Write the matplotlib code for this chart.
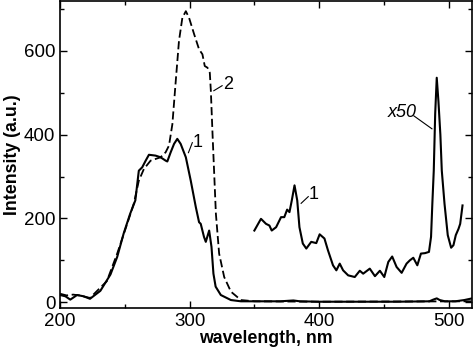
import numpy as np
import matplotlib.pyplot as plt
from matplotlib.ticker import MultipleLocator

plt.rcParams['font.family'] = ['Liberation Sans', 'DejaVu Sans']

# curve 1: emission spectrum (solid)
wl1 = [200, 204, 207.8, 213, 218, 223, 231, 238.8, 244, 249, 254, 258, 260.7, 263.3, 266,
       268.5, 273.6, 277.5, 281.4, 282.7, 285.3, 287.9, 290.4, 293, 297, 300.8, 304.7,
       307.2, 308.5, 311, 312.4, 315, 316.8, 318.3, 320, 324, 331.8, 339.5, 350, 370,
       380, 385, 400, 430, 460, 485, 488, 490.7, 493, 497, 505, 512, 518]
int1 = [17, 14, 6, 17, 14, 8, 27, 66, 108, 164, 211, 243, 314, 322, 338,
        352, 350, 346, 338, 336, 358, 378, 390, 378, 346, 290, 227,
        191, 187, 156, 144, 171, 132, 68, 37, 17, 5, 2, 2, 2,
        4, 2, 1, 1, 1, 2, 6, 9, 5, 2, 2, 5, 9]

# curve 2: dashed
wl2 = [200, 205, 210, 215, 223, 236, 244, 251.7, 256.8, 260.7, 264.6, 269.8, 277.5, 281.4,
       284, 286.6, 289, 291.7, 294.3, 297, 299.5, 303.4, 307.2, 309.8, 311.6, 313.7,
       315.5, 316.3, 317.6, 318.9, 320.2, 322.7, 326.6, 331.8, 339.5, 350, 400, 518]
int2 = [20, 16, 18, 16, 10, 50, 116, 187, 235, 290, 318, 338, 346, 358,
        374, 425, 520, 624, 679, 695, 679, 640, 604, 592, 564, 560,
        548, 505, 402, 306, 211, 116, 60, 25, 5, 2, 1, 2]

# curve 1 multiplied by 50
wl3 = [349.9, 355, 358.9, 361.5, 363.3, 366.7, 370.5, 373, 375.2, 377, 378.8, 380.9, 383,
       384.7, 387.3, 390, 393.8, 397.7, 400.3, 404, 406.7, 410.6, 413.2, 415.8, 418.4,
       422.3, 427.4, 431.3, 433.9, 439, 443, 446.8, 450.2, 453.3, 456.3, 459.7, 463.6,
       467.4, 470, 472.6, 475.7, 478.5, 481.6, 484.7, 486.3, 487.3, 488.4, 489.5, 490.7,
       492, 493.5, 494.6, 496.7, 499.2, 501.8, 503.6, 505.4, 507.5, 508.8, 510.6]
int3 = [171, 199, 187, 183, 171, 179, 203, 203, 221, 215, 243, 279, 243,
        179, 140, 128, 144, 141, 162, 152, 124, 88, 76, 92, 76,
        64, 60, 75, 68, 80, 62, 75, 60, 96, 109, 84, 70,
        92, 100, 106, 88, 116, 117, 120, 156, 235, 314, 450, 536,
        480, 400, 314, 235, 160, 130, 136, 160, 175, 187, 231]

fig = plt.figure(figsize=(4.74, 3.52), dpi=100)
ax = fig.add_axes([0.127, 0.125, 0.869, 0.873])

ax.plot(wl1, int1, color='black', lw=1.5, solid_joinstyle='round')
ax.plot(wl2, int2, color='black', lw=1.3, dashes=(4.5, 2))
ax.plot(wl3, int3, color='black', lw=1.5, solid_joinstyle='round')

# labels with leader lines
ax.plot([299, 302], [357, 381], color='black', lw=0.8)
ax.text(302.5, 382, '1', fontsize=13, va='center', ha='left')
ax.plot([318.6, 325], [505, 517], color='black', lw=0.8)
ax.text(325.5, 519, '2', fontsize=13, va='center', ha='left')
ax.plot([386, 391.5], [236, 252], color='black', lw=0.8)
ax.text(392, 256, '1', fontsize=13, va='center', ha='left')
ax.plot([473, 487], [445, 414], color='black', lw=0.8)
ax.text(464, 453, 'x50', fontsize=13, style='italic', va='center', ha='center')

ax.set_xlim(200, 518)
ax.set_ylim(-14, 720)
ax.xaxis.set_major_locator(MultipleLocator(100))
ax.xaxis.set_minor_locator(MultipleLocator(50))
ax.yaxis.set_major_locator(MultipleLocator(200))
ax.yaxis.set_minor_locator(MultipleLocator(100))
ax.tick_params(which='both', direction='in', top=True, right=True, labelsize=13.5)
ax.tick_params(which='major', length=5, width=1)
ax.tick_params(which='minor', length=3, width=1)
for s in ax.spines.values():
    s.set_linewidth(1.2)

ax.set_xlabel('wavelength, nm', fontsize=12.8, fontweight='bold', labelpad=0)
ax.set_ylabel('Intensity (a.u.)', fontsize=12.8, fontweight='bold', labelpad=2)

fig.savefig('out.png', dpi=100)
